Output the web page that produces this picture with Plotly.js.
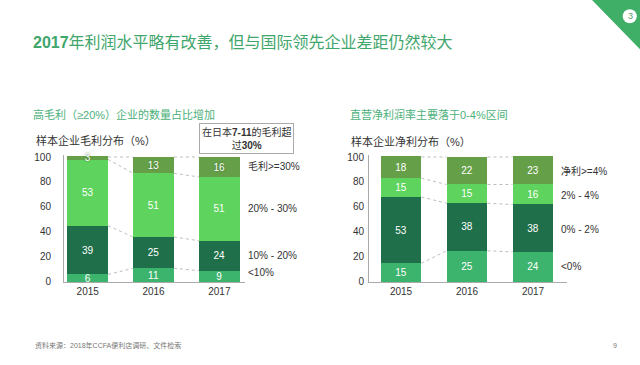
<!DOCTYPE html>
<html><head><meta charset="utf-8">
<script src="https://cdn.plot.ly/plotly-3.0.1.min.js"></script>
<style>html,body{margin:0;padding:0;background:#fff}#c{width:640px;height:365px}</style>
</head><body><div id="c"></div>
<script>
const years = ['2015','2016','2017'];
// Left: gross margin distribution
const grossNames = ['<10%','10% - 20%','20% - 30%','毛利>=30%'];
const grossLt10 = [6, 11, 9];
const gross10to20 = [39, 25, 24];
const gross20to30 = [53, 51, 51];
const grossGe30 = [3, 13, 16];
// Right: net margin distribution
const netNames = ['<0%','0% - 2%','2% - 4%','净利>=4%'];
const netLt0 = [15, 25, 24];
const net0to2 = [53, 38, 38];
const net2to4 = [15, 15, 16];
const netGe4 = [18, 22, 23];

const colors = ['#3db46d', '#1f6f4a', '#5ed35d', '#65a048'];
const font = 'Liberation Sans, Noto Sans CJK SC, sans-serif';

const traces = [];
function addStack(series, xa, ya, topShadow) {
  series.forEach((vals, k) => {
    const isTop = k === series.length - 1;
    const tf = {color: '#ffffff', size: 10, family: font};
    if (isTop && topShadow) tf.shadow = '0px 0px 2px #3f6e2c';
    traces.push({
      type: 'bar', x: years, y: vals, xaxis: xa, yaxis: ya,
      marker: {color: colors[k], line: {width: 0}},
      text: vals.map(String), textposition: 'inside', insidetextanchor: 'middle', textangle: 0,
      textfont: tf,
      cliponaxis: !isTop,
      hoverinfo: 'none', showlegend: false
    });
  });
}
const grossSeries = [grossLt10, gross10to20, gross20to30, grossGe30];
const netSeries = [netLt0, net0to2, net2to4, netGe4];
addStack(grossSeries, 'x', 'y', true);
addStack(netSeries, 'x2', 'y2', false);

const half = 0.31;
const shapes = [];
function connectors(series, xr, yr) {
  const cum = years.map((_, i) => {
    let s = 0; const out = [];
    series.forEach(v => { s += v[i]; out.push(Math.min(s, 100)); });
    return [0].concat(out);
  });
  for (let i = 0; i < years.length - 1; i++) {
    for (let k = 1; k < cum[i].length; k++) {
      shapes.push({type: 'line', xref: xr, yref: yr,
        x0: i + half, x1: i + 1 - half, y0: cum[i][k], y1: cum[i + 1][k],
        line: {color: '#bdbdbd', width: 1, dash: 'dot'}});
    }
  }
}
connectors(grossSeries, 'x', 'y');
connectors(netSeries, 'x2', 'y2');
// corner triangle
shapes.push({type: 'path', xref: 'paper', yref: 'paper',
  path: 'M 0.925 1 L 1 1 L 1 0.865 Z', fillcolor: '#3fae67', line: {width: 0}});
shapes.push({type: 'circle', xref: 'paper', yref: 'paper',
  x0: 0.973, x1: 0.995, y0: 0.936, y1: 0.975, fillcolor: '#ffffff', line: {width: 0}});

const annotations = [];
function legendLabels(series, names, ya, xp, offsets) {
  let s = 0;
  series.forEach((v, k) => {
    const last = v[v.length - 1];
    const mid = s + last / 2; s += last;
    annotations.push({xref: 'paper', yref: ya, x: xp, y: mid + (offsets[k] || 0),
      text: names[k], showarrow: false, xanchor: 'left',
      font: {size: 10, color: '#333', family: font}});
  });
}
legendLabels(grossSeries, grossNames, 'y', 0.385, [3, 0, 0, 0]);
legendLabels(netSeries, netNames, 'y2', 0.874, [0, -1, -1, -1]);

function txt(text, x, y, size, color, extra) {
  annotations.push(Object.assign({xref: 'paper', yref: 'paper', x: x / 640, y: 1 - y / 365,
    text: text, showarrow: false, xanchor: 'left', yanchor: 'middle',
    font: {size: size, color: color, family: font}}, extra || {}));
}
txt('<b>2017</b>年利润水平略有改善，但与国际领先企业差距仍然较大', 31, 43, 16, '#3fa66c');
txt('高毛利（≥20%）企业的数量占比增加', 31, 115, 11, '#4cb07a');
txt('直营净利润率主要落于0-4%区间', 348, 115, 11, '#4cb07a');
txt('样本企业毛利分布（%）', 34, 140, 11, '#333333');
txt('样本企业净利分布（%）', 349, 141, 11, '#333333');
txt('在日本<b>7-11</b>的毛利超<br>过<b>30%</b>', 246, 138, 10, '#333333',
  {xanchor: 'center', bordercolor: '#aaaaaa', borderwidth: 1, borderpad: 2, bgcolor: '#ffffff'});
txt('资料来源：2018年CCFA便利店调研、文件检索', 33, 345, 7, '#777777');
txt('9', 611, 345, 7, '#777777');
txt('3', 630, 16, 9, '#5a9a70', {xanchor: 'center'});

const yTop = 101.5;
const yax = {range: [0, yTop], tickvals: [0, 20, 40, 60, 80, 100], showgrid: false, zeroline: false, showline: true,
  linecolor: '#aaaaaa', linewidth: 1, ticks: '', tickfont: {size: 10, color: '#333', family: font},
  domain: [83 / 365, (83 + 1.25 * yTop) / 365], fixedrange: true};
const xax = {showgrid: false, zeroline: false, showline: true, linecolor: '#aaaaaa', ticks: '',
  tickfont: {size: 10, color: '#333', family: font}, type: 'category'};

const layout = {
  width: 640, height: 365, margin: {l: 0, r: 0, t: 0, b: 0},
  paper_bgcolor: '#ffffff', plot_bgcolor: '#ffffff',
  barmode: 'stack', bargap: 0.38, showlegend: false,
  uniformtext: {minsize: 10, mode: 'show'},
  font: {family: font},
  xaxis: Object.assign({}, xax, {domain: [64 / 640, 245 / 640], range: [-0.36, 2.39], anchor: 'y'}),
  yaxis: Object.assign({}, yax, {anchor: 'x', ticklabelstandoff: 10}),
  xaxis2: Object.assign({}, xax, {domain: [369 / 640, 567 / 640], range: [-0.485, 2.515], anchor: 'y2'}),
  yaxis2: Object.assign({}, yax, {anchor: 'x2', ticklabelstandoff: 2}),
  shapes: shapes, annotations: annotations
};
Plotly.newPlot('c', traces, layout, {staticPlot: true, displayModeBar: false});
</script></body></html>
